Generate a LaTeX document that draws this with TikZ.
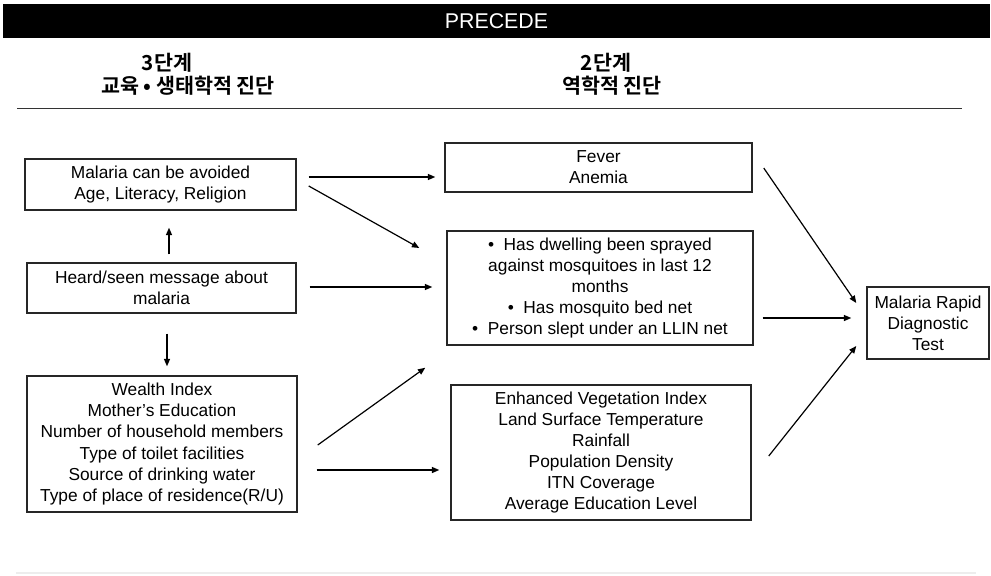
\documentclass[tikz,border=0pt]{standalone}
\usepackage{fontspec}
\setmainfont{Liberation Sans}
\newfontfamily\kor{Noto Sans CJK KR}[BoldFont={Noto Sans CJK KR Bold}]
\usetikzlibrary{arrows.meta,calc}

\begin{document}
\begin{tikzpicture}
  [x=0.75pt,y=-0.75pt,
   box/.style={rectangle,draw=black!85,line width=1.1pt,inner sep=0pt,
               align=center,font=\fontsize{13}{15.8}\selectfont},
   head/.style={inner sep=0pt,font=\kor\bfseries\fontsize{15.5}{17}\selectfont},
   arr/.style={line width=0.9pt,-{Triangle[length=5.5pt,width=4.5pt]}}]
  \useasboundingbox (0,0) rectangle (991,575);
  \node (banner) at (496.5,21) [fill=black,text=white,inner sep=0pt,
        minimum width=987*0.75pt,minimum height=34*0.75pt,
        font=\fontsize{16}{18}\selectfont] {PRECEDE};
  \node (stage3) at (167,63) [head] {3단계};
  \node (stage3sub) at (188,86) [head] {교육 • 생태학적 진단};
  \node (stage2) at (606,63) [head] {2단계};
  \node (stage2sub) at (612,86) [head] {역학적 진단};
  \draw[black!80,line width=1.2pt] (17,108.5) -- (962,108.5);
  \draw[black!7,line width=0.8pt] (16,573) -- (976,573);

  \node (avoid) at (160.5,184.5) [box,minimum width=271*0.75pt,minimum height=51*0.75pt]
        {Malaria can be avoided\\Age, Literacy, Religion};
  \node (message) at (161.5,288) [box,minimum width=269*0.75pt,minimum height=50*0.75pt]
        {Heard/seen message about\\malaria};
  \node (wealth) at (162,444) [box,minimum width=270*0.75pt,minimum height=136*0.75pt]
        {Wealth Index\\Mother’s Education\\Number of household members\\Type of toilet facilities\\Source of drinking water\\Type of place of residence(R/U)};
  \node (symptom) at (598.5,167.5) [box,minimum width=307*0.75pt,minimum height=49*0.75pt]
        {Fever\\Anemia};
  \node (prevent) at (600,288) [box,minimum width=306*0.75pt,minimum height=114*0.75pt]
        {•\hspace{0.55em}Has dwelling been sprayed\\against mosquitoes in last 12\\months\\•\hspace{0.55em}Has mosquito bed net\\•\hspace{0.55em}Person slept under an LLIN net};
  \node (environ) at (601,452.5) [box,minimum width=300*0.75pt,minimum height=135*0.75pt]
        {Enhanced Vegetation Index\\Land Surface Temperature\\Rainfall\\Population Density\\ITN Coverage\\Average Education Level};
  \node (rdt) at (928,323) [box,minimum width=122*0.75pt,minimum height=72*0.75pt]
        {Malaria Rapid\\Diagnostic\\Test};

  \draw[arr] ($(avoid.east)+(12,-7.5)$) -- ($(symptom.west)+(-9,9.5)$);
  \draw[arr] ($(avoid.east)+(12,1.5)$) -- ($(prevent.west)+(-27,-40)$);
  \draw[arr] ($(message.north)+(7.5,-8)$) -- ($(avoid.south)+(8.5,17)$);
  \draw[arr] ($(message.east)+(13,-1)$) -- ($(prevent.west)+(-14,-1)$);
  \draw[arr] ($(message.south)+(5.5,20)$) -- ($(wealth.north)+(5,-9)$);
  \draw[arr] ($(wealth.east)+(20,1)$) -- ($(prevent.south west)+(-21,22)$);
  \draw[arr] ($(wealth.east)+(19,26)$) -- ($(environ.west)+(-11,17.5)$);
  \draw[arr] ($(symptom.east)+(11,0.5)$) -- ($(rdt.west)+(-10,-20)$);
  \draw[arr] ($(prevent.east)+(9,30)$) -- ($(rdt.west)+(-15,-5)$);
  \draw[arr] ($(environ.east)+(17,3.5)$) -- ($(rdt.west)+(-10,23)$);
\end{tikzpicture}
\end{document}
